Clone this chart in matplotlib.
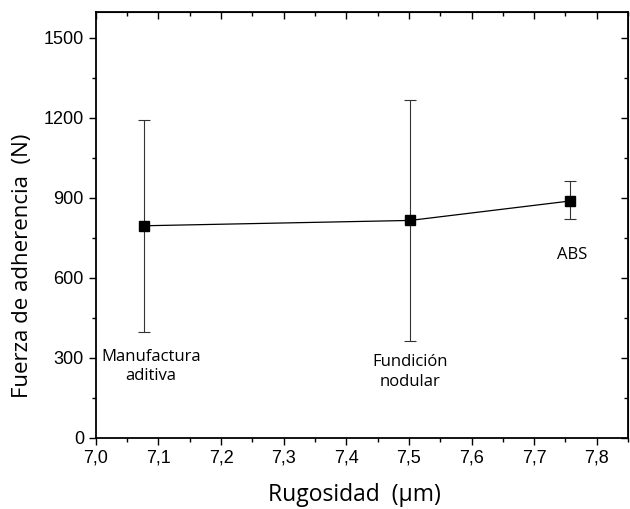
import matplotlib
matplotlib.use("Agg")
import matplotlib.pyplot as plt
from matplotlib.ticker import MultipleLocator, FuncFormatter

x_vals = [7.077, 7.502, 7.758]
y_vals = [795, 815, 888]
err_low = [398, 365, 820]
err_high = [1190, 1265, 962]
labels = ["Manufactura\naditiva", "Fundición\nnodular", "ABS"]
label_pos = [(7.088, 268), (7.502, 248), (7.76, 685)]

fig = plt.figure(figsize=(6.3, 5.09), dpi=100)
ax = fig.add_axes([0.152, 0.1395, 0.845, 0.8365])

yerr = [[y - lo for y, lo in zip(y_vals, err_low)], [hi - y for y, hi in zip(y_vals, err_high)]]
ax.errorbar(x_vals, y_vals, yerr=yerr, fmt='none', ecolor='#333333', elinewidth=0.8,
            capsize=4, capthick=0.8, zorder=2)
ax.plot(x_vals, y_vals, color='black', lw=0.9, marker='s', markersize=7, zorder=3)

for (lx, ly), t in zip(label_pos, labels):
    ax.text(lx, ly, t, ha='center', va='center', fontsize=12, family=['Open Sans', 'DejaVu Sans'],
            linespacing=1.3)

ax.set_xlim(7.0, 7.85)
ax.set_ylim(0, 1595)
ax.xaxis.set_major_locator(MultipleLocator(0.1))
ax.xaxis.set_minor_locator(MultipleLocator(0.05))
ax.yaxis.set_major_locator(MultipleLocator(300))
ax.yaxis.set_minor_locator(MultipleLocator(150))
ax.xaxis.set_major_formatter(FuncFormatter(lambda v, p: f"{v:.1f}".replace('.', ',')))

ax.tick_params(axis='both', which='both', labelsize=13, width=1, direction='out',
               labelfontfamily='Liberation Sans')
ax.tick_params(which='major', length=5)
ax.tick_params(which='minor', length=3)

# inward ticks on top and right
axt = ax.secondary_xaxis('top')
axt.xaxis.set_major_locator(MultipleLocator(0.1))
axt.xaxis.set_minor_locator(MultipleLocator(0.05))
axt.tick_params(which='both', direction='in', labeltop=False, width=1)
axt.tick_params(which='major', length=5)
axt.tick_params(which='minor', length=3)
axr = ax.secondary_yaxis('right')
axr.yaxis.set_major_locator(MultipleLocator(300))
axr.yaxis.set_minor_locator(MultipleLocator(150))
axr.tick_params(which='both', direction='in', labelright=False, width=1)
axr.tick_params(which='major', length=5)
axr.tick_params(which='minor', length=3)

for s in ax.spines.values():
    s.set_linewidth(1.3)

ax.set_xlabel("Rugosidad  (μm)", fontsize=16.5, family=['Open Sans', 'DejaVu Sans'])
ax.set_ylabel("Fuerza de adherencia  (N)", fontsize=16, family=['Open Sans', 'DejaVu Sans'])
ax.xaxis.set_label_coords(0.485, -0.105)
ax.yaxis.set_label_coords(-0.118, 0.404)

fig.savefig("out.png", dpi=100)
